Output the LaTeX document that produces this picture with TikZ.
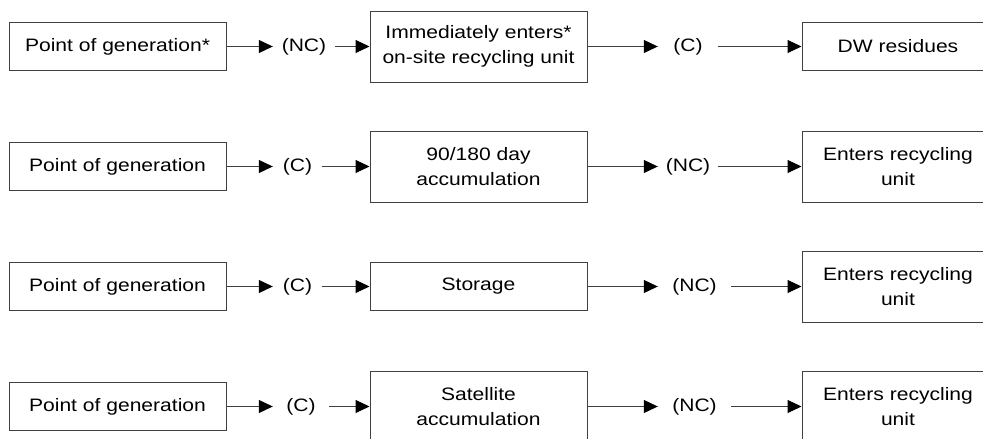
\documentclass[tikz,border=0pt]{standalone}
\usepackage{fontspec}
\setmainfont{Liberation Sans}[FakeStretch=1.17]
\usetikzlibrary{arrows.meta}

\tikzset{
  flowbox/.style={draw=black!75, line width=1pt, fill=white, inner sep=0pt,
    minimum width=217pt, align=center, font=\fontsize{18}{25.5}\selectfont},
  lowbox/.style={flowbox, minimum height=48pt},
  tallbox/.style={flowbox, minimum height=71pt},
  endbox/.style={minimum width=192pt},
  lbl/.style={inner sep=0pt, minimum height=20pt, align=center,
    font=\fontsize{18}{25.5}\selectfont},
  arr/.style={draw=black!75, line width=1pt,
    -{Triangle[length=14pt,width=13pt,fill=black,color=black]}}
}

\begin{document}
\begin{tikzpicture}[x=1pt,y=-1pt]
\useasboundingbox (0,0) rectangle (983,439);
\fill[white] (0,0) rectangle (983,439);

% Row 1
\node[lowbox] (a1) at (117.5,46.5) {Point of generation*};
\node[lbl, minimum width=62pt] (p1) at (304,46.5) {(NC)};
\node[tallbox] (b1) at (478.5,46.5) {Immediately enters*\\on-site recycling unit};
\node[lbl, minimum width=60pt] (q1) at (688,46.5) {(C)};
\node[lowbox, endbox] (c1) at (898,46.5) {DW residues};

% Row 2
\node[lowbox] (a2) at (117.5,166.5) {Point of generation};
\node[lbl, minimum width=49pt] (p2) at (297.5,166.5) {(C)};
\node[tallbox] (b2) at (478.5,166.5) {90/180 day\\accumulation};
\node[lbl, minimum width=60pt] (q2) at (688,166.5) {(NC)};
\node[tallbox, endbox] (c2) at (898,166.5) {Enters recycling\\unit};

% Row 3
\node[lowbox] (a3) at (117.5,286.5) {Point of generation};
\node[lbl, minimum width=49pt] (p3) at (297.5,286.5) {(C)};
\node[lowbox] (b3) at (478.5,286.5) {Storage};
\node[lbl, minimum width=73pt] (q3) at (694.5,286.5) {(NC)};
\node[tallbox, endbox] (c3) at (898,286.5) {Enters recycling\\unit};

% Row 4
\node[lowbox] (a4) at (117.5,406.5) {Point of generation};
\node[lbl, minimum width=56pt] (p4) at (301,406.5) {(C)};
\node[tallbox] (b4) at (478.5,406.5) {Satellite\\accumulation};
\node[lbl, minimum width=73pt] (q4) at (694.5,406.5) {(NC)};
\node[tallbox, endbox] (c4) at (898,406.5) {Enters recycling\\unit};

% Connectors
\foreach \r in {1,2,3,4}{
  \draw[arr] (a\r.east) -- (p\r.west);
  \draw[arr] (p\r.east) -- (b\r.west);
  \draw[arr] (b\r.east) -- (q\r.west);
  \draw[arr] (q\r.east) -- (c\r.west);
}
\end{tikzpicture}
\end{document}
